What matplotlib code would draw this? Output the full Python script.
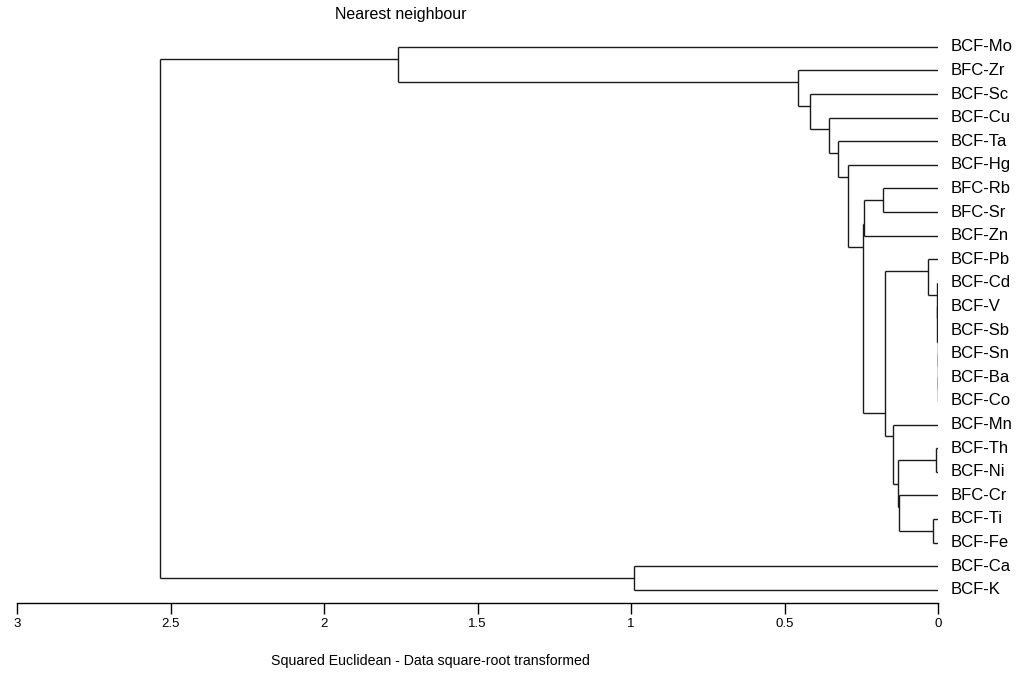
import matplotlib
matplotlib.use("Agg")
import matplotlib.pyplot as plt
from matplotlib import transforms

# ---- data ----
leaf_labels = ["BCF-Mo", "BFC-Zr", "BCF-Sc", "BCF-Cu", "BCF-Ta", "BCF-Hg",
               "BFC-Rb", "BFC-Sr", "BCF-Zn", "BCF-Pb", "BCF-Cd", "BCF-V",
               "BCF-Sb", "BCF-Sn", "BCF-Ba", "BCF-Co", "BCF-Mn", "BCF-Th",
               "BCF-Ni", "BFC-Cr", "BCF-Ti", "BCF-Fe", "BCF-Ca", "BCF-K"]
# merge i creates cluster id len(leaf_labels)+i (scipy-like)
merge_left = [14, 13, 12, 11, 10, 17, 20, 9, 19, 29, 16, 31, 6, 36, 37, 5, 4, 3, 2, 1, 22, 0, 45]
merge_right = [15, 24, 25, 26, 27, 18, 21, 28, 30, 32, 33, 34, 7, 8, 35, 38, 39, 40, 41, 42, 23, 43, 44]
merge_height = [0.0005, 0.001, 0.0015, 0.002, 0.003, 0.007, 0.016, 0.033, 0.127,
                0.130, 0.147, 0.173, 0.179, 0.241, 0.244, 0.293, 0.326, 0.355,
                0.417, 0.456, 0.990, 1.759, 2.534]
x_ticks = [3, 2.5, 2, 1.5, 1, 0.5, 0]
x_tick_labels = ["3", "2.5", "2", "1.5", "1", "0.5", "0"]
title = "Nearest neighbour"
xlabel = "Squared Euclidean - Data square-root transformed"

# ---- figure ----
W, H = 1030, 677
fig = plt.figure(figsize=(W / 100, H / 100), dpi=100)
x_left_px, x_right_px = 17, 938
top_px, bottom_px = 35, 603
ax = fig.add_axes([x_left_px / W, 1 - bottom_px / H,
                   (x_right_px - x_left_px) / W, (bottom_px - top_px) / H])
n = len(leaf_labels)
ax.set_xlim(3, 0)
ax.set_ylim(n - 1 + 0.56, -0.5)

# node info: (min leaf, max leaf, y entry, x height)
info = {i: (i, i, float(i), 0.0) for i in range(n)}
lc = "#1a1a1a"
lw = 1.0
for k, (a, b, h) in enumerate(zip(merge_left, merge_right, merge_height)):
    amin, amax, ay, ax_h = info[a]
    bmin, bmax, by, bx_h = info[b]
    ax.plot([ax_h, h], [ay, ay], color=lc, lw=lw, solid_capstyle="butt")
    ax.plot([bx_h, h], [by, by], color=lc, lw=lw, solid_capstyle="butt")
    ax.plot([h, h], [ay, by], color=lc, lw=lw, solid_capstyle="butt")
    lo, hi = min(amin, bmin), max(amax, bmax)
    split = (min(amax, bmax) + max(amin, bmin)) / 2.0
    info[n + k] = (lo, hi, split, h)

# leaf labels
off = transforms.offset_copy(ax.transData, fig=fig, x=9, y=0, units="points")
for i, lab in enumerate(leaf_labels):
    ax.text(0, i, lab, transform=off, ha="left", va="center",
            fontsize=12, family=["Liberation Sans", "DejaVu Sans"], color="black")

for s in ["top", "left", "right"]:
    ax.spines[s].set_visible(False)
ax.spines["bottom"].set_linewidth(1.0)
ax.set_yticks([])
ax.set_xticks(x_ticks)
ax.set_xticklabels(x_tick_labels, family=["Liberation Sans Narrow", "Liberation Sans", "DejaVu Sans"],
                   fontsize=9.5)
ax.tick_params(axis="x", direction="out", length=8, width=1.0, pad=3)

fig.text(401 / W, 1 - 15 / H, title, ha="center", va="center",
         fontsize=11.5, family=["Liberation Sans", "DejaVu Sans"])
fig.text(430 / W, 1 - 661 / H, xlabel, ha="center", va="center",
         fontsize=10.2, family=["Liberation Sans Narrow", "Liberation Sans", "DejaVu Sans"])

fig.savefig("out.png", dpi=100, facecolor="white")
